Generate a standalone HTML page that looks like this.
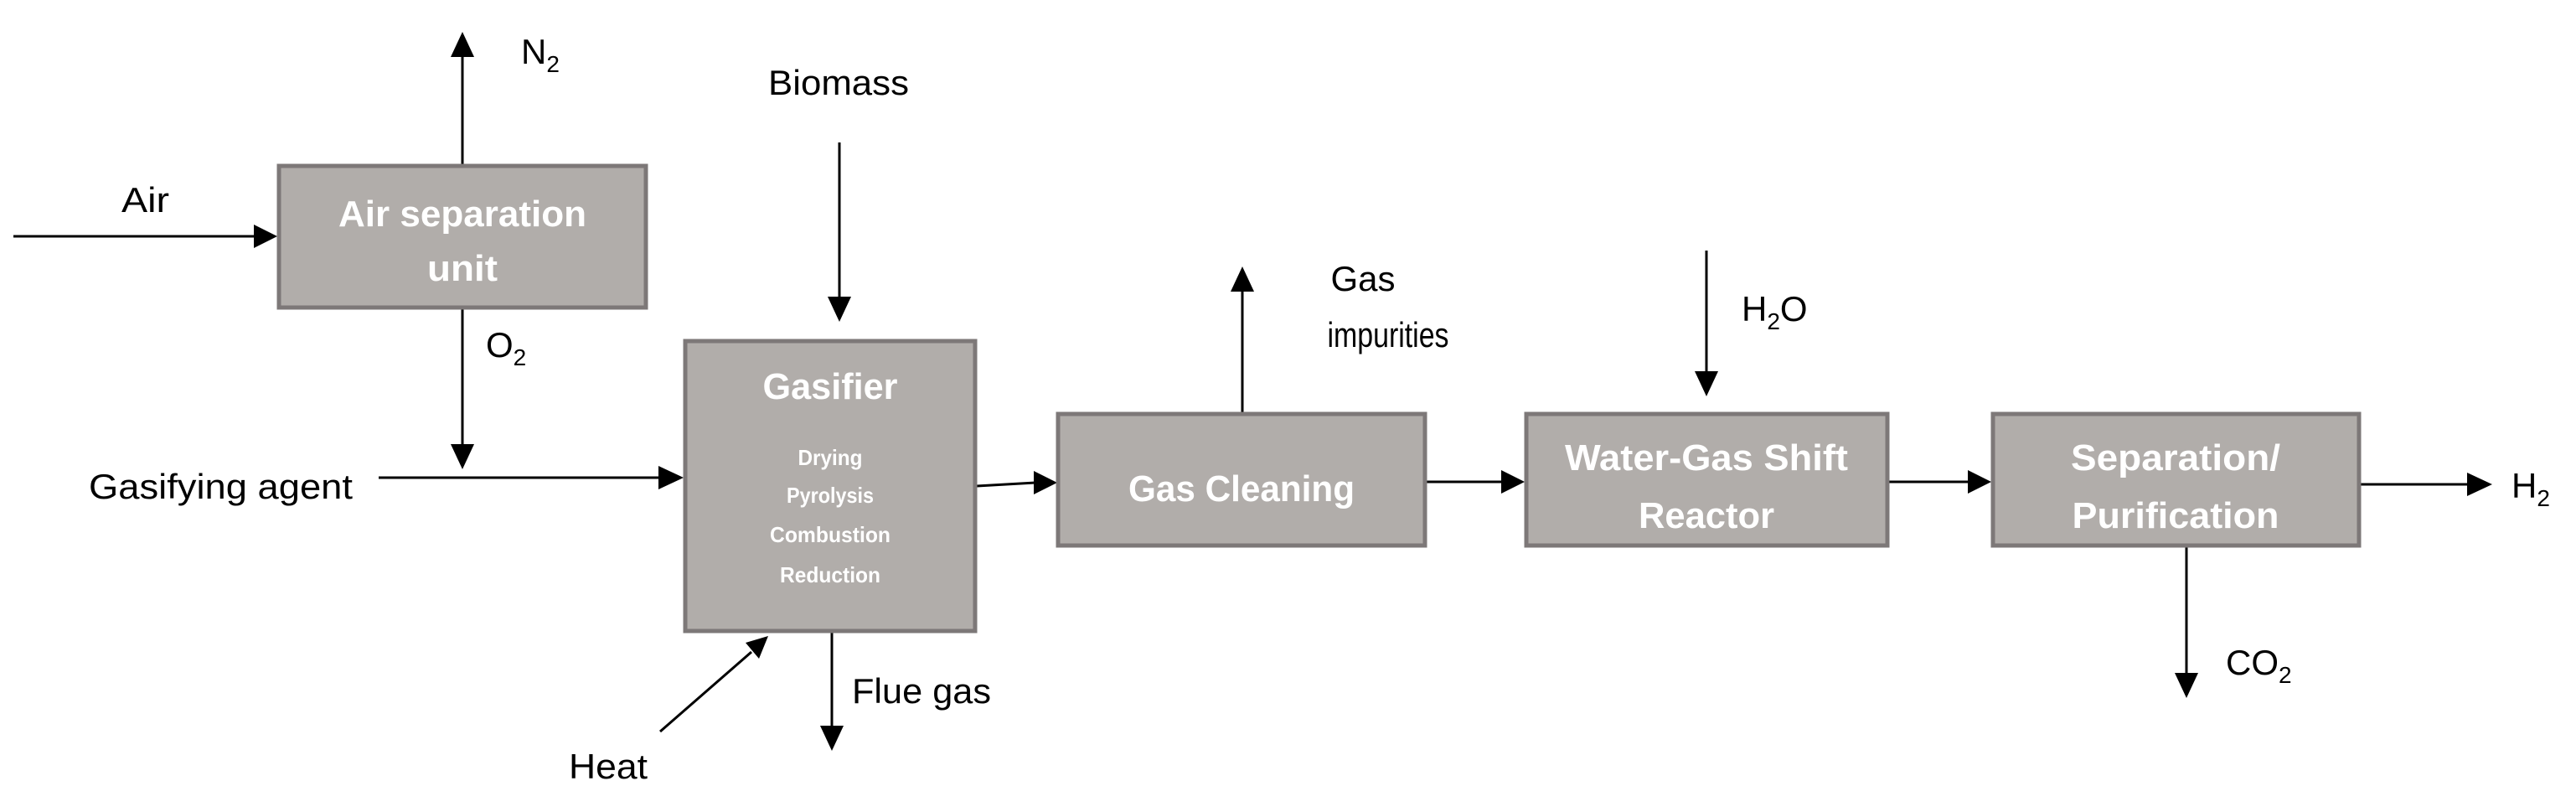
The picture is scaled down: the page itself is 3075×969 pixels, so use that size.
<!DOCTYPE html>
<html><head><meta charset="utf-8"><style>html,body{margin:0;padding:0;background:#fff}svg{display:block}</style></head><body>
<svg width="3075" height="969" viewBox="0 0 3075 969" xmlns="http://www.w3.org/2000/svg">
<g stroke="#000" stroke-width="3" fill="none">
<line x1="16" y1="282" x2="305" y2="282"/>
<line x1="552" y1="196" x2="552" y2="68"/>
<line x1="552" y1="369" x2="552" y2="532"/>
<line x1="452" y1="570" x2="788" y2="570"/>
<line x1="1002" y1="170" x2="1002" y2="356"/>
<line x1="788" y1="873" x2="897" y2="778"/>
<line x1="993" y1="754" x2="993" y2="868"/>
<line x1="1166" y1="580" x2="1236" y2="576"/>
<line x1="1483" y1="492" x2="1483" y2="346"/>
<line x1="1703" y1="575" x2="1794" y2="575"/>
<line x1="2037" y1="299" x2="2037" y2="445"/>
<line x1="2255" y1="575" x2="2351" y2="575"/>
<line x1="2818" y1="578" x2="2947" y2="578"/>
<line x1="2610" y1="653" x2="2610" y2="805"/>
</g>
<g fill="#000">
<polygon points="331,282 303,268 303,296"/>
<polygon points="552,38 538,68 566,68"/>
<polygon points="552,560 538,530 566,530"/>
<polygon points="816,570 786,556 786,584"/>
<polygon points="1002,384 988,354 1016,354"/>
<polygon points="917,759 890,767 906,786"/>
<polygon points="993,896 979,866 1007,866"/>
<polygon points="1262,576 1234,562 1234,590"/>
<polygon points="1483,318 1469,348 1497,348"/>
<polygon points="1820,575 1792,561 1792,589"/>
<polygon points="2037,473 2023,443 2051,443"/>
<polygon points="2377,575 2349,561 2349,589"/>
<polygon points="2975,578 2945,564 2945,592"/>
<polygon points="2610,833 2596,803 2624,803"/>
</g>
<g fill="#b1adaa" stroke="#7d7878" stroke-width="5">
<rect x="333" y="198" width="438" height="169"/>
<rect x="818" y="407" width="346" height="346"/>
<rect x="1263" y="494" width="438" height="157"/>
<rect x="1822" y="494" width="431" height="157"/>
<rect x="2379" y="494" width="437" height="157"/>
</g>
<g font-family="Liberation Sans, sans-serif" font-weight="bold" fill="#fff" text-anchor="middle">
<text x="552" y="270" font-size="44" textLength="296" lengthAdjust="spacingAndGlyphs">Air separation</text>
<text x="552" y="335" font-size="44" textLength="84" lengthAdjust="spacingAndGlyphs">unit</text>
<text x="991" y="476" font-size="44" textLength="161" lengthAdjust="spacingAndGlyphs">Gasifier</text>
<text x="991" y="555" font-size="26" textLength="77" lengthAdjust="spacingAndGlyphs">Drying</text>
<text x="991" y="600" font-size="26" textLength="104" lengthAdjust="spacingAndGlyphs">Pyrolysis</text>
<text x="991" y="647" font-size="26" textLength="144" lengthAdjust="spacingAndGlyphs">Combustion</text>
<text x="991" y="695" font-size="26" textLength="120" lengthAdjust="spacingAndGlyphs">Reduction</text>
<text x="1482" y="598" font-size="44" textLength="270" lengthAdjust="spacingAndGlyphs">Gas Cleaning</text>
<text x="2037" y="561" font-size="44" textLength="338" lengthAdjust="spacingAndGlyphs">Water-Gas Shift</text>
<text x="2037" y="630" font-size="44" textLength="162" lengthAdjust="spacingAndGlyphs">Reactor</text>
<text x="2597" y="561" font-size="44" textLength="250" lengthAdjust="spacingAndGlyphs">Separation/</text>
<text x="2597" y="630" font-size="44" textLength="247" lengthAdjust="spacingAndGlyphs">Purification</text>
</g>
<g font-family="Liberation Sans, sans-serif" fill="#000" font-size="42">
<text x="145" y="253" textLength="57" lengthAdjust="spacingAndGlyphs">Air</text>
<text x="622" y="76">N<tspan font-size="28" dy="10">2</tspan></text>
<text x="580" y="426">O<tspan font-size="28" dy="10">2</tspan></text>
<text x="106" y="595" textLength="315" lengthAdjust="spacingAndGlyphs">Gasifying agent</text>
<text x="917" y="113" textLength="168" lengthAdjust="spacingAndGlyphs">Biomass</text>
<text x="679" y="929" textLength="94" lengthAdjust="spacingAndGlyphs">Heat</text>
<text x="1017" y="839" textLength="166" lengthAdjust="spacingAndGlyphs">Flue gas</text>
<text x="1627" y="347" text-anchor="middle">Gas</text>
<text x="1657" y="414" text-anchor="middle" textLength="145" lengthAdjust="spacingAndGlyphs">impurities</text>
<text x="2079" y="383">H<tspan font-size="28" dy="10">2</tspan><tspan dy="-10">O</tspan></text>
<text x="2998" y="594">H<tspan font-size="28" dy="10">2</tspan></text>
<text x="2657" y="805">CO<tspan font-size="28" dy="10">2</tspan></text>
</g>
</svg>
</body></html>
